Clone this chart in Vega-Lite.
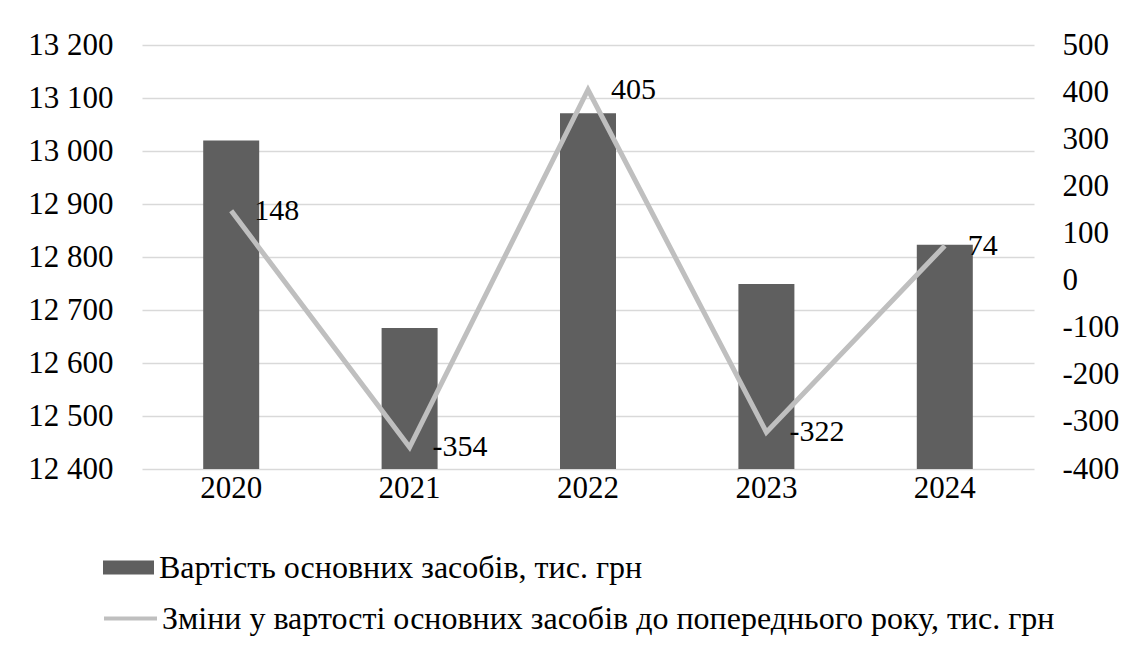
{
  "$schema": "https://vega.github.io/schema/vega-lite/v6.json",
  "autosize": {"type": "none"},
  "padding": {"left": 142, "top": 45, "right": 103, "bottom": 182},
  "width": 892,
  "height": 424,
  "background": "#ffffff",
  "config": {
    "font": "Liberation Serif",
    "view": {"stroke": null},
    "axis": {"labelFont": "Liberation Serif", "labelFontSize": 31, "labelColor": "#000000", "domain": false, "ticks": false},
    "legend": {"labelFont": "Liberation Serif", "labelFontSize": 32, "labelColor": "#000000", "padding": 0, "labelLimit": 0}
  },
  "data": {
    "values": [
      {"year": "2020", "value": 13020, "change": 148},
      {"year": "2021", "value": 12666, "change": -354},
      {"year": "2022", "value": 13071, "change": 405},
      {"year": "2023", "value": 12749, "change": -322},
      {"year": "2024", "value": 12823, "change": 74}
    ]
  },
  "encoding": {
    "x": {
      "field": "year", "type": "nominal", "title": null,
      "scale": {"paddingInner": 0, "paddingOuter": 0},
      "axis": {"labelAngle": 0, "labelPadding": 4, "grid": false}
    }
  },
  "layer": [
    {
      "mark": {"type": "bar", "width": 56, "clip": true},
      "encoding": {
        "y": {
          "field": "value", "type": "quantitative", "title": null,
          "scale": {"domain": [12400, 13200], "zero": false, "nice": false},
          "axis": {
            "orient": "left", "values": [12400, 12500, 12600, 12700, 12800, 12900, 13000, 13100, 13200],
            "labelExpr": "replace(format(datum.value, ','), ',', ' ')",
            "labelPadding": 29, "grid": true, "gridColor": "#d9d9d9", "gridWidth": 1.5
          }
        },
        "fill": {
          "datum": "Вартість основних засобів, тис. грн",
          "scale": {"range": ["#5f5f5f"]},
          "legend": {
            "title": null, "orient": "none", "legendX": -39, "legendY": 497,
            "symbolType": "M-1,-0.27H1V0.27H-1Z", "symbolSize": 2601, "symbolStrokeWidth": 0,
            "labelOffset": 5
          }
        }
      }
    },
    {
      "layer": [
        {
          "mark": {"type": "line", "strokeWidth": 5},
          "encoding": {
            "y": {
              "field": "change", "type": "quantitative", "title": null,
              "scale": {"domain": [-400, 500], "zero": false, "nice": false},
              "axis": {
                "orient": "right", "values": [-400, -300, -200, -100, 0, 100, 200, 300, 400, 500],
                "labelExpr": "'' + datum.value", "labelPadding": 28, "grid": false
              }
            },
            "stroke": {
              "datum": "Зміни у вартості основних засобів до попереднього року, тис. грн",
              "scale": {"range": ["#bfbfbf"]},
              "legend": {
                "title": null, "orient": "none", "legendX": -40, "legendY": 545,
                "symbolType": "stroke", "symbolSize": 2809, "symbolStrokeWidth": 4,
                "labelOffset": 3
              }
            }
          }
        },
        {
          "mark": {"type": "text", "align": "left", "baseline": "middle", "dx": 23, "fontSize": 30, "color": "#000000", "font": "Liberation Serif"},
          "encoding": {
            "y": {"field": "change", "type": "quantitative"},
            "text": {"field": "change", "type": "nominal"}
          }
        }
      ]
    }
  ],
  "resolve": {"scale": {"y": "independent"}}
}
